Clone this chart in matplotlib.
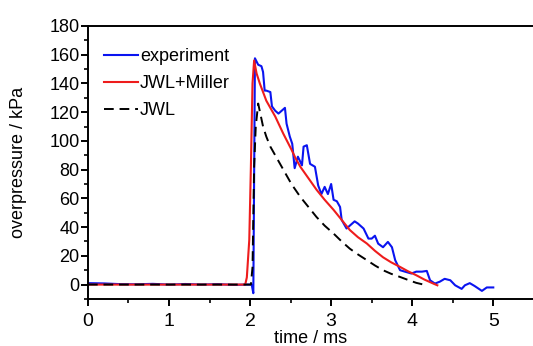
import matplotlib
matplotlib.use("Agg")
import matplotlib.pyplot as plt
from matplotlib.ticker import MultipleLocator

plt.rcParams['font.family'] = ['Liberation Sans', 'DejaVu Sans']

# experiment
t_exp = [0.0, 0.2, 0.4, 0.6, 0.8, 1.0, 1.2, 1.4, 1.6, 1.8, 1.95, 2.02, 2.04,
         2.06, 2.10, 2.14, 2.16, 2.18, 2.20, 2.25, 2.27, 2.31, 2.35, 2.39, 2.43,
         2.45, 2.49, 2.52, 2.55, 2.59, 2.64, 2.66, 2.70, 2.74, 2.80, 2.84, 2.88,
         2.92, 2.96, 3.00, 3.03, 3.07, 3.11, 3.13, 3.19, 3.23, 3.29, 3.33, 3.40,
         3.46, 3.50, 3.54, 3.58, 3.64, 3.70, 3.75, 3.79, 3.85, 3.91, 3.99, 4.05,
         4.12, 4.18, 4.22, 4.28, 4.34, 4.40, 4.47, 4.53, 4.61, 4.65, 4.71, 4.77,
         4.86, 4.92, 5.00]
p_exp = [1.0, 0.8, 0.3, 0.2, 0.5, 0.0, 0.4, 0.0, 0.3, -0.2, 0.0, 0.0, -6.0,
         157.5, 153, 152, 148, 135, 135, 134, 124, 121, 119, 121, 123,
         112, 103, 98, 81, 89, 83, 96, 97, 84, 82, 69, 63,
         68, 63, 70, 59, 58, 54, 45, 39, 41, 44, 42.5, 39,
         32, 32, 34, 28.5, 26, 29.7, 26, 17, 10, 9, 7.7, 9,
         9, 9.5, 3, 0.7, 2, 4, 3, -0.5, -3, -0.5, 1, -1,
         -4.4, -2, -2]

# JWL+Miller
t_jm = [0.0, 1.0, 1.94, 1.96, 1.99, 2.01, 2.03, 2.05, 2.08, 2.12, 2.16, 2.20,
        2.25, 2.31, 2.36, 2.41, 2.46, 2.51, 2.56, 2.62, 2.72, 2.82, 2.92, 3.03,
        3.13, 3.23, 3.33, 3.44, 3.54, 3.64, 3.74, 3.85, 3.95, 4.05, 4.15, 4.26,
        4.31]
p_jm = [0.0, 0.0, 0.0, 5, 31, 82, 140, 156, 147, 140, 134, 128,
        123, 117, 111, 105, 99.5, 94, 88, 82, 74, 66, 59, 52,
        45, 38, 33, 28.6, 23.5, 19, 15.5, 12.3, 9.2, 6.5, 3.5, 0.7,
        -0.5]

# JWL
t_jwl = [0.0, 1.0, 2.01, 2.03, 2.05, 2.07, 2.10, 2.13, 2.16, 2.20, 2.25, 2.33,
         2.41, 2.51, 2.62, 2.72, 2.82, 2.92, 3.03, 3.13, 3.23, 3.33, 3.44, 3.54,
         3.64, 3.74, 3.85, 3.95, 4.05, 4.14]
p_jwl = [0.0, 0.0, 0.0, 12, 82, 110, 126, 118, 110, 103, 96, 88,
         80, 70, 61, 54, 47, 41, 35.5, 30, 25, 21, 17, 13.3,
         10, 7.5, 5.3, 3.2, 1.2, 0.0]

fig = plt.figure(figsize=(5.33, 3.46), dpi=100)
ax = fig.add_axes([0.165, 0.136, 0.835, 0.789])

ax.plot(t_exp, p_exp, color='#0a14f0', lw=1.5, label='experiment')
ax.plot(t_jm, p_jm, color='#ee1c1c', lw=1.5, label='JWL+Miller')
ax.plot(t_jwl, p_jwl, color='black', lw=1.4, ls=(0, (5, 3)), label='JWL')

ax.set_xlim(0, 5.49)
ax.set_ylim(-10, 180)
ax.xaxis.set_major_locator(MultipleLocator(1))
ax.xaxis.set_minor_locator(MultipleLocator(0.5))
ax.yaxis.set_major_locator(MultipleLocator(20))
ax.yaxis.set_minor_locator(MultipleLocator(10))
ax.spines['right'].set_visible(False)
for s in ax.spines.values():
    s.set_linewidth(1.4)
ax.tick_params(which='major', direction='out', length=5, width=1.4)
ax.tick_params(which='minor', direction='out', length=3, width=1.2)
ax.tick_params(axis='x', which='major', labelsize=14, pad=5)
ax.tick_params(axis='y', which='major', labelsize=13, pad=1)

ax.set_xlabel('time / ms', fontsize=13, labelpad=0)
ax.set_ylabel('overpressure / kPa', fontsize=13, labelpad=16)

ax.legend(loc='upper left', frameon=False, fontsize=13, handlelength=1.9,
          handletextpad=0.1, labelspacing=0.55, borderaxespad=0.0,
          bbox_to_anchor=(0.02, 0.945))

fig.savefig('out.png', dpi=100)
